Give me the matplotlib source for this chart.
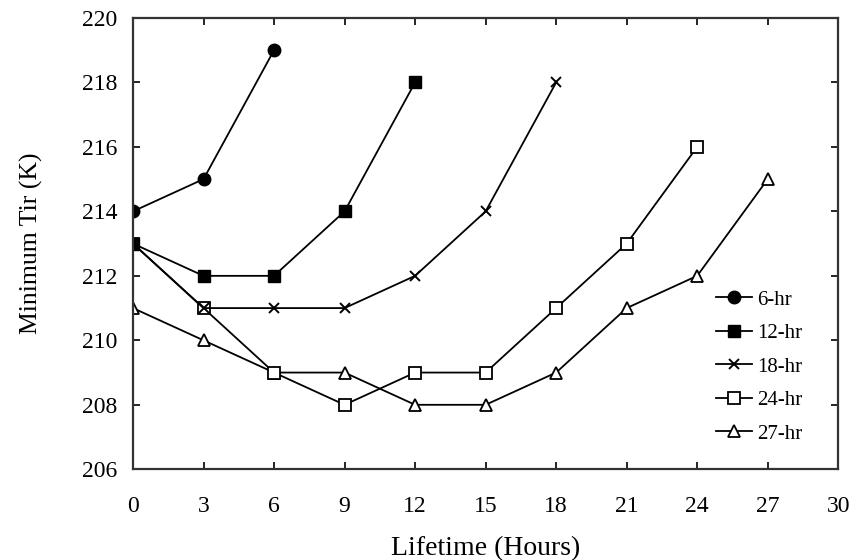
import matplotlib.pyplot as plt
from matplotlib.ticker import MultipleLocator

plt.rcParams['font.family'] = ['Liberation Serif', 'DejaVu Serif']

# lifetime groups: hour of life vs minimum IR temperature
hours_6 = [0, 3, 6]
tir_6 = [214, 215, 219]

hours_12 = [0, 3, 6, 9, 12]
tir_12 = [213, 212, 212, 214, 218]

hours_18 = [0, 3, 6, 9, 12, 15, 18]
tir_18 = [213, 211, 211, 211, 212, 214, 218]

hours_24 = [0, 3, 6, 9, 12, 15, 18, 21, 24]
tir_24 = [213, 211, 209, 208, 209, 209, 211, 213, 216]

hours_27 = [0, 3, 6, 9, 12, 15, 18, 21, 24, 27]
tir_27 = [211, 210, 209, 209, 208, 208, 209, 211, 212, 215]

fig = plt.figure(figsize=(8.58, 5.6), dpi=100)
ax = fig.add_axes([0.155, 0.162, 0.822, 0.806])

lw = 1.3
ax.plot(hours_27, tir_27, '-^', color='black', mfc='white', mec='black', ms=8, mew=1.3, lw=lw, label='27-hr')
ax.plot(hours_24, tir_24, '-s', color='black', mfc='white', mec='black', ms=8.5, mew=1.3, lw=lw, label='24-hr')
ax.plot(hours_18, tir_18, '-x', color='black', ms=7, mew=1.4, lw=lw, label='18-hr')
ax.plot(hours_12, tir_12, '-s', color='black', ms=8.5, lw=lw, label='12-hr')
ax.plot(hours_6, tir_6, '-o', color='black', ms=9, lw=lw, label='6-hr')

ax.set_xlim(0, 30)
ax.set_ylim(206, 220)
ax.xaxis.set_major_locator(MultipleLocator(3))
ax.yaxis.set_major_locator(MultipleLocator(2))
ax.tick_params(direction='in', top=True, right=True, labelsize=17, length=5, width=1.2)
ax.tick_params(axis='x', pad=19)
ax.tick_params(axis='y', pad=11)
for s in ax.spines.values():
    s.set_linewidth(1.6)
    s.set_color('#333333')

ax.set_xlabel('Lifetime (Hours)', fontsize=20, labelpad=14)
ax.set_ylabel('Minimum Tir (K)', fontsize=18.5, labelpad=28)

handles, labels = ax.get_legend_handles_labels()
ax.legend(handles[::-1], labels[::-1], loc='upper left',
          bbox_to_anchor=(716 / 858, 1 - 290 / 560), bbox_transform=fig.transFigure,
          borderaxespad=0, borderpad=0, frameon=False, fontsize=15,
          handlelength=1.73, labelspacing=0.67, handletextpad=0.25)

fig.savefig('out.png', dpi=100)
